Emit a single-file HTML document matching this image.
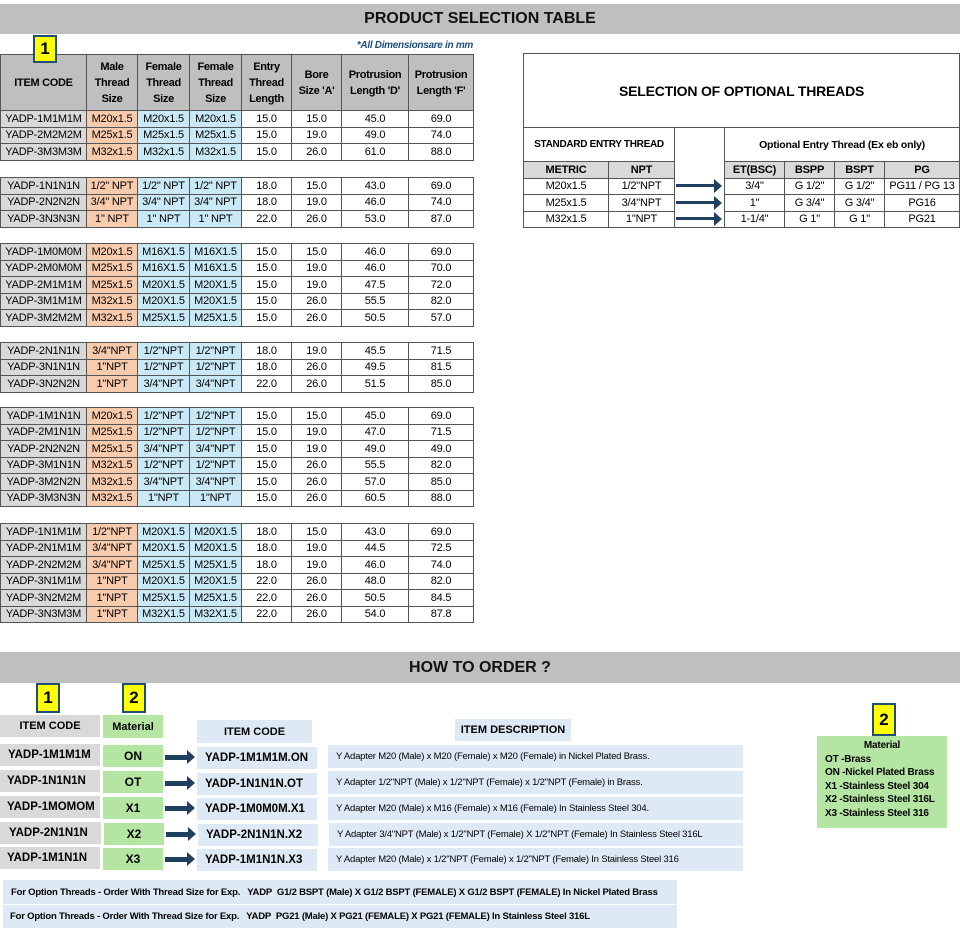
<!DOCTYPE html>
<html><head><meta charset="utf-8"><style>
body{margin:0;width:960px;height:939px;position:relative;background:#fff;font-family:"Liberation Sans",Arial,sans-serif;overflow:hidden}
.a{position:absolute}
.bar{background:#bfbfbf;font-weight:bold;font-size:16px;text-align:center;color:#111}
.yb{background:#ffff00;border:2px solid #1f4e79;font-weight:bold;font-size:17px;text-align:center;box-sizing:border-box;z-index:5}
table{border-collapse:collapse;table-layout:fixed;position:absolute;left:0;width:473px;font-size:11px;letter-spacing:-0.2px}
td{border:1px solid #555;text-align:center;padding:0;height:15.5px;line-height:14px;white-space:nowrap;overflow:hidden}
td.c{background:#d9d9d9}
td.o{background:#f8cbad}
td.b{background:#c8e9f5}
th{border:1px solid #555;background:#bfbfbf;font-size:11px;font-weight:bold;padding:0;line-height:16px;letter-spacing:-0.3px}
.rt td{font-size:11px}
.g{background:#d9d9d9}.gr{background:#b4e5a2}.lb{background:#dde9f5}
.box{position:absolute;display:flex;align-items:center;font-size:12px;font-weight:bold;box-sizing:border-box;white-space:nowrap;overflow:hidden}
.arr{position:absolute;height:5px;background:#1f3f5f}
.arr:after{content:"";position:absolute;right:-6px;top:-5px;border-left:8px solid #1f3f5f;border-top:7px solid transparent;border-bottom:7px solid transparent}
.n{font-weight:normal;font-size:9.5px;letter-spacing:-0.2px}
</style></head><body>
<div class="a bar" style="left:0;top:4px;width:960px;height:30px;line-height:30px">PRODUCT SELECTION TABLE</div>
<div class="a yb" style="left:33px;top:35px;width:24px;height:28px;line-height:24px">1</div>
<div class="a" style="left:320px;top:40px;width:153px;text-align:right;font-size:10px;font-style:italic;font-weight:bold;color:#1f4e79;letter-spacing:-0.3px">*All Dimensionsare in mm</div>

<table style="top:54px"><colgroup><col style="width:86px"><col style="width:51px"><col style="width:52px"><col style="width:52px"><col style="width:50px"><col style="width:50px"><col style="width:67px"><col style="width:65px"></colgroup>
<tr style="height:56px"><th>ITEM CODE</th><th>Male<br>Thread<br>Size</th><th>Female<br>Thread<br>Size</th><th>Female<br>Thread<br>Size</th><th>Entry<br>Thread<br>Length</th><th>Bore<br>Size 'A'</th><th>Protrusion<br>Length 'D'</th><th>Protrusion<br>Length 'F'</th></tr>
<tr><td class="c">YADP-1M1M1M</td><td class="o">M20x1.5</td><td class="b">M20x1.5</td><td class="b">M20x1.5</td><td>15.0</td><td>15.0</td><td>45.0</td><td>69.0</td></tr>
<tr><td class="c">YADP-2M2M2M</td><td class="o">M25x1.5</td><td class="b">M25x1.5</td><td class="b">M25x1.5</td><td>15.0</td><td>19.0</td><td>49.0</td><td>74.0</td></tr>
<tr><td class="c">YADP-3M3M3M</td><td class="o">M32x1.5</td><td class="b">M32x1.5</td><td class="b">M32x1.5</td><td>15.0</td><td>26.0</td><td>61.0</td><td>88.0</td></tr>
</table>

<table style="top:177px"><colgroup><col style="width:86px"><col style="width:51px"><col style="width:52px"><col style="width:52px"><col style="width:50px"><col style="width:50px"><col style="width:67px"><col style="width:65px"></colgroup>
<tr><td class="c">YADP-1N1N1N</td><td class="o">1/2" NPT</td><td class="b">1/2" NPT</td><td class="b">1/2" NPT</td><td>18.0</td><td>15.0</td><td>43.0</td><td>69.0</td></tr>
<tr><td class="c">YADP-2N2N2N</td><td class="o">3/4" NPT</td><td class="b">3/4" NPT</td><td class="b">3/4" NPT</td><td>18.0</td><td>19.0</td><td>46.0</td><td>74.0</td></tr>
<tr><td class="c">YADP-3N3N3N</td><td class="o">1" NPT</td><td class="b">1" NPT</td><td class="b">1" NPT</td><td>22.0</td><td>26.0</td><td>53.0</td><td>87.0</td></tr>
</table>

<table style="top:243px"><colgroup><col style="width:86px"><col style="width:51px"><col style="width:52px"><col style="width:52px"><col style="width:50px"><col style="width:50px"><col style="width:67px"><col style="width:65px"></colgroup>
<tr><td class="c">YADP-1M0M0M</td><td class="o">M20x1.5</td><td class="b">M16X1.5</td><td class="b">M16X1.5</td><td>15.0</td><td>15.0</td><td>46.0</td><td>69.0</td></tr>
<tr><td class="c">YADP-2M0M0M</td><td class="o">M25x1.5</td><td class="b">M16X1.5</td><td class="b">M16X1.5</td><td>15.0</td><td>19.0</td><td>46.0</td><td>70.0</td></tr>
<tr><td class="c">YADP-2M1M1M</td><td class="o">M25x1.5</td><td class="b">M20X1.5</td><td class="b">M20X1.5</td><td>15.0</td><td>19.0</td><td>47.5</td><td>72.0</td></tr>
<tr><td class="c">YADP-3M1M1M</td><td class="o">M32x1.5</td><td class="b">M20X1.5</td><td class="b">M20X1.5</td><td>15.0</td><td>26.0</td><td>55.5</td><td>82.0</td></tr>
<tr><td class="c">YADP-3M2M2M</td><td class="o">M32x1.5</td><td class="b">M25X1.5</td><td class="b">M25X1.5</td><td>15.0</td><td>26.0</td><td>50.5</td><td>57.0</td></tr>
</table>

<table style="top:342px"><colgroup><col style="width:86px"><col style="width:51px"><col style="width:52px"><col style="width:52px"><col style="width:50px"><col style="width:50px"><col style="width:67px"><col style="width:65px"></colgroup>
<tr><td class="c">YADP-2N1N1N</td><td class="o">3/4"NPT</td><td class="b">1/2"NPT</td><td class="b">1/2"NPT</td><td>18.0</td><td>19.0</td><td>45.5</td><td>71.5</td></tr>
<tr><td class="c">YADP-3N1N1N</td><td class="o">1"NPT</td><td class="b">1/2"NPT</td><td class="b">1/2"NPT</td><td>18.0</td><td>26.0</td><td>49.5</td><td>81.5</td></tr>
<tr><td class="c">YADP-3N2N2N</td><td class="o">1"NPT</td><td class="b">3/4"NPT</td><td class="b">3/4"NPT</td><td>22.0</td><td>26.0</td><td>51.5</td><td>85.0</td></tr>
</table>

<table style="top:407px"><colgroup><col style="width:86px"><col style="width:51px"><col style="width:52px"><col style="width:52px"><col style="width:50px"><col style="width:50px"><col style="width:67px"><col style="width:65px"></colgroup>
<tr><td class="c">YADP-1M1N1N</td><td class="o">M20x1.5</td><td class="b">1/2"NPT</td><td class="b">1/2"NPT</td><td>15.0</td><td>15.0</td><td>45.0</td><td>69.0</td></tr>
<tr><td class="c">YADP-2M1N1N</td><td class="o">M25x1.5</td><td class="b">1/2"NPT</td><td class="b">1/2"NPT</td><td>15.0</td><td>19.0</td><td>47.0</td><td>71.5</td></tr>
<tr><td class="c">YADP-2N2N2N</td><td class="o">M25x1.5</td><td class="b">3/4"NPT</td><td class="b">3/4"NPT</td><td>15.0</td><td>19.0</td><td>49.0</td><td>49.0</td></tr>
<tr><td class="c">YADP-3M1N1N</td><td class="o">M32x1.5</td><td class="b">1/2"NPT</td><td class="b">1/2"NPT</td><td>15.0</td><td>26.0</td><td>55.5</td><td>82.0</td></tr>
<tr><td class="c">YADP-3M2N2N</td><td class="o">M32x1.5</td><td class="b">3/4"NPT</td><td class="b">3/4"NPT</td><td>15.0</td><td>26.0</td><td>57.0</td><td>85.0</td></tr>
<tr><td class="c">YADP-3M3N3N</td><td class="o">M32x1.5</td><td class="b">1"NPT</td><td class="b">1"NPT</td><td>15.0</td><td>26.0</td><td>60.5</td><td>88.0</td></tr>
</table>

<table style="top:523px"><colgroup><col style="width:86px"><col style="width:51px"><col style="width:52px"><col style="width:52px"><col style="width:50px"><col style="width:50px"><col style="width:67px"><col style="width:65px"></colgroup>
<tr><td class="c">YADP-1N1M1M</td><td class="o">1/2"NPT</td><td class="b">M20X1.5</td><td class="b">M20X1.5</td><td>18.0</td><td>15.0</td><td>43.0</td><td>69.0</td></tr>
<tr><td class="c">YADP-2N1M1M</td><td class="o">3/4"NPT</td><td class="b">M20X1.5</td><td class="b">M20X1.5</td><td>18.0</td><td>19.0</td><td>44.5</td><td>72.5</td></tr>
<tr><td class="c">YADP-2N2M2M</td><td class="o">3/4"NPT</td><td class="b">M25X1.5</td><td class="b">M25X1.5</td><td>18.0</td><td>19.0</td><td>46.0</td><td>74.0</td></tr>
<tr><td class="c">YADP-3N1M1M</td><td class="o">1"NPT</td><td class="b">M20X1.5</td><td class="b">M20X1.5</td><td>22.0</td><td>26.0</td><td>48.0</td><td>82.0</td></tr>
<tr><td class="c">YADP-3N2M2M</td><td class="o">1"NPT</td><td class="b">M25X1.5</td><td class="b">M25X1.5</td><td>22.0</td><td>26.0</td><td>50.5</td><td>84.5</td></tr>
<tr><td class="c">YADP-3N3M3M</td><td class="o">1"NPT</td><td class="b">M32X1.5</td><td class="b">M32X1.5</td><td>22.0</td><td>26.0</td><td>54.0</td><td>87.8</td></tr>
</table>

<!-- right table -->
<table class="rt" style="left:523px;top:53px;width:436px"><colgroup><col style="width:85px"><col style="width:66px"><col style="width:50px"><col style="width:60px"><col style="width:50px"><col style="width:50px"><col style="width:75px"></colgroup>
<tr style="height:74px"><td colspan="7" style="font-size:14px;font-weight:bold;border-bottom:1px solid #555">SELECTION OF OPTIONAL THREADS</td></tr>
<tr style="height:34px"><td colspan="2" style="font-weight:bold;font-size:10px;letter-spacing:-0.3px">STANDARD ENTRY THREAD</td><td rowspan="5"></td><td colspan="4" style="font-weight:bold;font-size:10.5px">Optional Entry Thread (Ex eb only)</td></tr>
<tr><td class="c" style="font-weight:bold">METRIC</td><td class="c" style="font-weight:bold">NPT</td><td class="c" style="font-weight:bold">ET(BSC)</td><td class="c" style="font-weight:bold">BSPP</td><td class="c" style="font-weight:bold">BSPT</td><td class="c" style="font-weight:bold">PG</td></tr>
<tr><td>M20x1.5</td><td>1/2"NPT</td><td>3/4"</td><td>G 1/2"</td><td>G 1/2"</td><td>PG11 / PG 13</td></tr>
<tr><td>M25x1.5</td><td>3/4"NPT</td><td>1"</td><td>G 3/4"</td><td>G 3/4"</td><td>PG16</td></tr>
<tr><td>M32x1.5</td><td>1"NPT</td><td>1-1/4"</td><td>G 1"</td><td>G 1"</td><td>PG21</td></tr>
</table>
<div class="arr" style="left:676px;top:184px;width:40px;height:3px"></div>
<div class="arr" style="left:676px;top:201px;width:40px;height:3px"></div>
<div class="arr" style="left:676px;top:217px;width:40px;height:3px"></div>

<!-- how to order -->
<div class="a bar" style="left:0;top:652px;width:960px;height:31px;line-height:31px">HOW TO ORDER ?</div>
<div class="a yb" style="left:36px;top:683px;width:24px;height:30px;line-height:26px">1</div>
<div class="a yb" style="left:122px;top:683px;width:24px;height:30px;line-height:26px">2</div>
<div class="box g" style="left:0;top:715px;width:100px;height:22px;justify-content:center;font-size:11px">ITEM CODE</div>
<div class="box gr" style="left:103px;top:715px;width:60px;height:23px;justify-content:center;font-size:11px">Material</div>
<div class="box lb" style="left:197px;top:720px;width:115px;height:23px;justify-content:center;font-size:11px">ITEM CODE</div>
<div class="box lb" style="left:455px;top:719px;width:116px;height:22px;justify-content:center;font-size:11px">ITEM DESCRIPTION</div>

<div class="box g" style="left:0;top:744px;width:100px;height:22px;padding-left:8px;font-size:11.5px">YADP-1M1M1M</div>
<div class="box g" style="left:0;top:770px;width:100px;height:22px;padding-left:7px;font-size:11.5px">YADP-1N1N1N</div>
<div class="box g" style="left:0;top:796px;width:100px;height:22px;padding-left:7px;font-size:11.5px">YADP-1MOMOM</div>
<div class="box g" style="left:0;top:822px;width:101px;height:22px;padding-left:9px;font-size:11.5px">YADP-2N1N1N</div>
<div class="box g" style="left:0;top:847px;width:100px;height:22px;padding-left:7px;font-size:11.5px">YADP-1M1N1N</div>

<div class="box gr" style="left:103px;top:745px;width:60px;height:22px;justify-content:center">ON</div>
<div class="box gr" style="left:103px;top:771px;width:60px;height:22px;justify-content:center">OT</div>
<div class="box gr" style="left:103px;top:797px;width:60px;height:22px;justify-content:center">X1</div>
<div class="box gr" style="left:104px;top:823px;width:60px;height:22px;justify-content:center">X2</div>
<div class="box gr" style="left:103px;top:848px;width:60px;height:22px;justify-content:center">X3</div>

<div class="arr" style="left:165px;top:755px;width:24px"></div>
<div class="arr" style="left:165px;top:781px;width:24px"></div>
<div class="arr" style="left:165px;top:806px;width:24px"></div>
<div class="arr" style="left:166px;top:832px;width:24px"></div>
<div class="arr" style="left:165px;top:857px;width:24px"></div>

<div class="box lb" style="left:197px;top:747px;width:120px;height:22px;padding-left:8px;font-size:11.5px">YADP-1M1M1M.ON</div>
<div class="box lb" style="left:197px;top:773px;width:120px;height:22px;padding-left:8px;font-size:11.5px">YADP-1N1N1N.OT</div>
<div class="box lb" style="left:197px;top:798px;width:120px;height:22px;padding-left:8px;font-size:11.5px">YADP-1M0M0M.X1</div>
<div class="box lb" style="left:198px;top:824px;width:120px;height:22px;padding-left:8px;font-size:11.5px">YADP-2N1N1N.X2</div>
<div class="box lb" style="left:197px;top:849px;width:120px;height:22px;padding-left:8px;font-size:11.5px">YADP-1M1N1N.X3</div>

<div class="box lb n" style="left:328px;top:745px;width:415px;height:23px;padding-left:8px">Y Adapter M20 (Male) x M20 (Female) x M20 (Female) in Nickel Plated Brass.</div>
<div class="box lb n" style="left:328px;top:771px;width:415px;height:23px;padding-left:8px">Y Adapter 1/2"NPT (Male) x 1/2"NPT (Female) x 1/2"NPT (Female) in Brass.</div>
<div class="box lb n" style="left:328px;top:797px;width:415px;height:23px;padding-left:8px">Y Adapter M20 (Male) x M16 (Female) x M16 (Female) In Stainless Steel 304.</div>
<div class="box lb n" style="left:329px;top:823px;width:414px;height:23px;padding-left:8px">Y Adapter 3/4"NPT (Male) x 1/2"NPT (Female) X 1/2"NPT (Female) In Stainless Steel 316L</div>
<div class="box lb n" style="left:328px;top:848px;width:415px;height:23px;padding-left:8px">Y Adapter M20 (Male) x 1/2"NPT (Female) x 1/2"NPT (Female) In Stainless Steel 316</div>

<div class="box lb" style="left:3px;top:880px;width:674px;height:24px;padding-left:8px;font-size:9.5px;letter-spacing:-0.2px">For Option Threads - Order With Thread Size for Exp.&nbsp;&nbsp; YADP&nbsp; G1/2 BSPT (Male) X G1/2 BSPT (FEMALE) X G1/2 BSPT (FEMALE) In Nickel Plated Brass</div>
<div class="box lb" style="left:3px;top:905px;width:674px;height:23px;padding-left:7px;font-size:9.5px;letter-spacing:-0.2px">For Option Threads - Order With Thread Size for Exp.&nbsp;&nbsp; YADP&nbsp; PG21 (Male) X PG21 (FEMALE) X PG21 (FEMALE) In Stainless Steel 316L</div>

<div class="a yb" style="left:872px;top:703px;width:24px;height:33px;line-height:29px">2</div>
<div class="a gr" style="left:817px;top:736px;width:130px;height:92px;font-size:10px;font-weight:bold;line-height:13.5px;box-sizing:border-box;padding:3px 0 0 8px;letter-spacing:-0.2px">
<div style="text-align:center;padding-right:8px">Material</div>OT -Brass<br>ON -Nickel Plated Brass<br>X1 -Stainless Steel 304<br>X2 -Stainless Steel 316L<br>X3 -Stainless Steel 316</div>
</body></html>
